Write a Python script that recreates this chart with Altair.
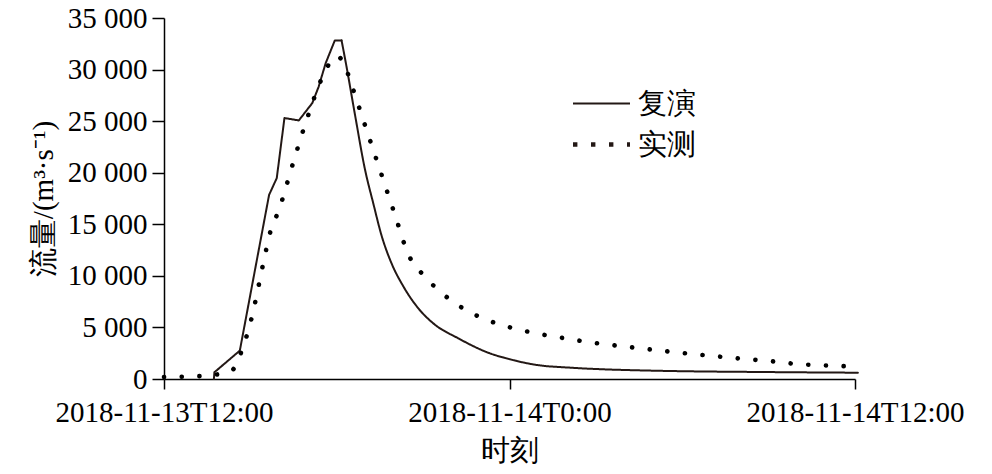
import altair as alt
import pandas as pd

# 复演 (simulated) series
sim_time = [
    "2018-11-13T13:44", "2018-11-13T13:45", "2018-11-13T14:38", "2018-11-13T15:39",
    "2018-11-13T15:55", "2018-11-13T16:11", "2018-11-13T16:41", "2018-11-13T17:09",
    "2018-11-13T17:22", "2018-11-13T17:37", "2018-11-13T17:56", "2018-11-13T18:10",
    "2018-11-13T18:19", "2018-11-13T18:38", "2018-11-13T18:59", "2018-11-13T19:16",
    "2018-11-13T19:34", "2018-11-13T19:54", "2018-11-13T20:19", "2018-11-13T20:47",
    "2018-11-13T21:21", "2018-11-13T22:13", "2018-11-13T23:19",
    "2018-11-14T00:01", "2018-11-14T00:57", "2018-11-14T02:06", "2018-11-14T03:15",
    "2018-11-14T04:25", "2018-11-14T05:35", "2018-11-14T08:40", "2018-11-14T12:06",
]
sim_flow = [
    0, 650, 2750, 17850,
    19480, 25300, 25070, 26750,
    28300, 30630, 32830, 32830,
    30630, 25620, 20280, 17050,
    13810, 11230, 8960, 7020,
    5400, 3950, 2490,
    1910, 1360, 1100, 940,
    845, 775, 680, 610,
]
sim_peak_end = "2018-11-13T18:10"  # rising limb drawn with straight segments up to here

# 实测 (observed) series
obs_time = [
    "2018-11-13T12:00", "2018-11-13T13:00", "2018-11-13T14:00", "2018-11-13T14:20",
    "2018-11-13T14:40", "2018-11-13T15:00", "2018-11-13T15:30", "2018-11-13T15:40",
    "2018-11-13T16:00", "2018-11-13T16:30", "2018-11-13T17:00", "2018-11-13T17:30",
    "2018-11-13T18:00", "2018-11-13T18:15", "2018-11-13T18:30", "2018-11-13T19:00",
    "2018-11-13T19:30", "2018-11-13T20:00", "2018-11-13T20:30", "2018-11-13T21:00",
    "2018-11-13T21:30", "2018-11-13T22:00", "2018-11-13T22:30", "2018-11-13T23:00",
    "2018-11-14T00:00", "2018-11-14T01:00", "2018-11-14T02:00", "2018-11-14T03:00",
    "2018-11-14T04:00", "2018-11-14T05:00", "2018-11-14T06:00", "2018-11-14T07:00",
    "2018-11-14T08:00", "2018-11-14T09:00", "2018-11-14T10:00", "2018-11-14T11:00",
    "2018-11-14T12:00",
]
obs_flow = [
    190, 250, 520, 750,
    2500, 5450, 11900, 14000,
    16450, 21100, 25500, 29250,
    31300, 30600, 28640, 24450,
    20270, 16100, 12000, 10100,
    8700, 7560, 6670, 5970,
    5020, 4390, 3910, 3480,
    3150, 2830, 2520, 2250,
    1980, 1750, 1450, 1310,
    1210,
]

series_names = ["复演", "实测"]
y_ticks = [0, 5000, 10000, 15000, 20000, 25000, 30000, 35000]

sim_df = pd.DataFrame({"time": sim_time, "flow": sim_flow, "series": series_names[0]})
obs_df = pd.DataFrame({"time": obs_time, "flow": obs_flow, "series": series_names[1]})
rise_df = sim_df[sim_df["time"] <= sim_peak_end].copy()
fall_df = sim_df[sim_df["time"] >= sim_peak_end].copy()
all_df = pd.concat([sim_df, obs_df])
for d in (sim_df, obs_df, rise_df, fall_df, all_df):
    d["time"] = d["time"] + ":00Z"

serif = "Liberation Serif"
ink = "#231815"

x_ticks = [
    alt.DateTime(year=2018, month=11, date=13, hours=12, utc=True),
    alt.DateTime(year=2018, month=11, date=14, hours=0, utc=True),
    alt.DateTime(year=2018, month=11, date=14, hours=12, utc=True),
]

X = alt.X(
    "time:T",
    scale=alt.Scale(type="utc", domain=[x_ticks[0], x_ticks[2]]),
    axis=alt.Axis(
        values=x_ticks,
        labelExpr="utcFormat(datum.value, '%Y-%m-%dT') + utchours(datum.value) + ':' + utcFormat(datum.value, '%M')",
        title="时刻",
        tickSize=10,
        labelPadding=9,
        titlePadding=9,
        labelFlush=False,
        labelOverlap=False,
        labelLimit=0,
    ),
)
Y = alt.Y(
    "flow:Q",
    scale=alt.Scale(domain=[0, 35000], nice=False),
    axis=alt.Axis(
        values=y_ticks,
        labelExpr="replace(format(datum.value, ','), ',', ' ')",
        title="流量/(m³·s⁻¹)",
        tickSize=12,
        labelPadding=5,
        titlePadding=9,
    ),
)

dash_scale = alt.Scale(domain=series_names, range=[[1, 0], [0.1, 17.6]])
width_scale = alt.Scale(domain=series_names, range=[2, 4.6])
color_scale = alt.Scale(domain=series_names, range=[ink, "#000000"])


def line_layer(data, interp):
    return alt.Chart(data).mark_line(
        strokeCap="round", strokeJoin="round", clip=False, interpolate=interp
    ).encode(
        x=X,
        y=Y,
        strokeDash=alt.StrokeDash("series:N", scale=dash_scale, legend=None),
        strokeWidth=alt.StrokeWidth("series:N", scale=width_scale, legend=None),
        color=alt.Color("series:N", scale=color_scale, legend=None),
    )


# layer that draws nothing in the plot (empty after filter) and only carries the legend
legend_layer = alt.Chart(all_df).transform_filter("false").mark_line(color=ink).encode(
    x=X,
    y=Y,
    strokeDash=alt.StrokeDash(
        "series:N",
        scale=alt.Scale(domain=series_names, range=[[1, 0], [4.4, 13.6]]),
        legend=alt.Legend(title=None),
    ),
    strokeWidth=alt.StrokeWidth(
        "series:N",
        scale=alt.Scale(domain=series_names, range=[2, 4.4]),
        legend=alt.Legend(title=None),
    ),
)

chart = alt.layer(
    line_layer(rise_df, "linear"),
    line_layer(fall_df, "monotone"),
    line_layer(obs_df, "monotone"),
    legend_layer,
).resolve_scale(
    strokeDash="independent", strokeWidth="independent"
).properties(
    width=691,
    height=361,
    autosize=alt.AutoSizeParams(type="none"),
    padding={"left": 156, "top": 10, "right": 129, "bottom": 87},
).configure_view(
    stroke=None
).configure_axis(
    grid=False,
    domainColor="#000000",
    domainWidth=1.5,
    tickColor="#000000",
    tickWidth=1.5,
    labelFont=serif,
    labelFontSize=29,
    labelColor="#000000",
    titleFont=serif,
    titleFontSize=29,
    titleFontWeight="normal",
    titleColor="#000000",
).configure_legend(
    orient="none",
    legendX=421,
    legendY=70,
    symbolType="M-2,0H2",
    symbolSize=812,
    symbolStrokeColor=ink,
    labelFont=serif,
    labelFontSize=29,
    labelColor="#000000",
    labelOffset=20,
    rowPadding=9,
)

chart.save("out.html", embed_options={"renderer": "svg", "actions": False})
